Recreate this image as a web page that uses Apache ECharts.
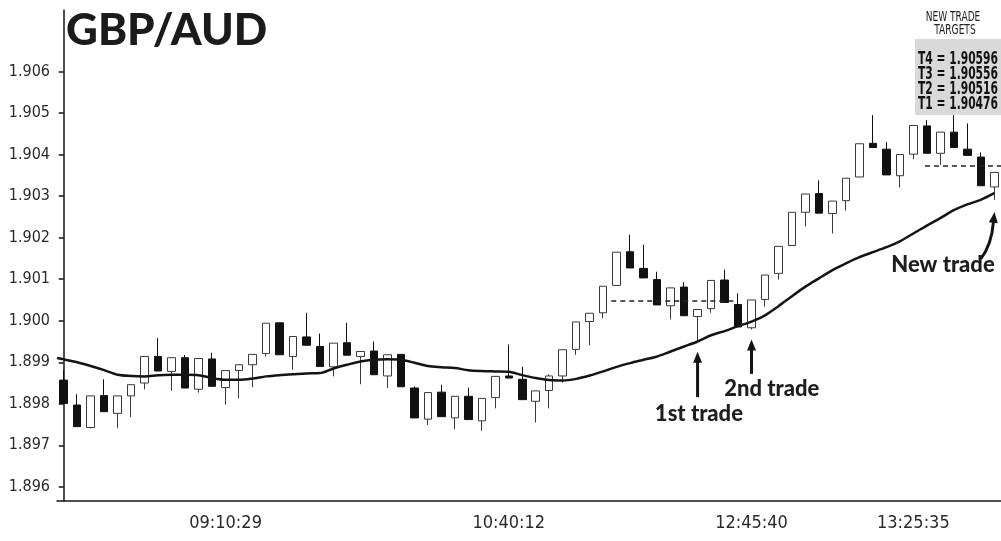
<!DOCTYPE html>
<html>
<head>
<meta charset="utf-8">
<title>GBP/AUD</title>
<script src="https://cdn.jsdelivr.net/npm/echarts@6/dist/echarts.min.js"></script>
<style>
  html, body { margin: 0; padding: 0; background: #fff; }
  #chart { width: 1001px; height: 541px; }
</style>
</head>
<body>
<div id="chart"></div>
<script>
// ---- price data (one entry per candle) ----
const opens  = [1.89857,1.89797,1.89743,1.89820,1.89777,1.89819,1.89850,1.89914,1.89878,1.89911,
                1.89835,1.89908,1.89839,1.89880,1.89894,1.89921,1.89995,1.89914,1.89961,1.89938,
                1.89889,1.89947,1.89914,1.89927,1.89867,1.89919,1.89838,1.89763,1.89828,1.89766,
                1.89818,1.89759,1.89815,1.89867,1.89859,1.89806,1.89832,1.89867,1.89931,1.89998,
                1.90019,1.90085,1.90166,1.90126,1.90099,1.90036,1.90081,1.90010,1.90029,1.90098,
                1.90039,1.89983,1.90051,1.90114,1.90181,1.90261,1.90306,1.90258,1.90289,1.90346,
                1.90427,1.90413,1.90349,1.90401,1.90469,1.90403,1.90454,1.90413,1.90394,1.90322];
const closes = [1.89801,1.89745,1.89819,1.89781,1.89819,1.89846,1.89914,1.89879,1.89911,1.89838,
                1.89909,1.89842,1.89880,1.89894,1.89919,1.89994,1.89918,1.89962,1.89941,1.89890,
                1.89946,1.89917,1.89926,1.89870,1.89918,1.89841,1.89766,1.89827,1.89769,1.89818,
                1.89762,1.89813,1.89866,1.89862,1.89810,1.89831,1.89867,1.89930,1.89997,1.90018,
                1.90083,1.90165,1.90127,1.90103,1.90038,1.90079,1.90012,1.90027,1.90097,1.90044,
                1.89985,1.90050,1.90110,1.90179,1.90261,1.90305,1.90259,1.90288,1.90343,1.90426,
                1.90417,1.90351,1.90400,1.90470,1.90403,1.90454,1.90417,1.90398,1.90325,1.90357];
const lows   = [1.89801,1.89745,1.89741,1.89781,1.89741,1.89768,1.89835,1.89879,1.89831,1.89838,
                1.89827,1.89842,1.89798,1.89813,1.89840,1.89914,1.89918,1.89882,1.89941,1.89890,
                1.89866,1.89917,1.89847,1.89870,1.89838,1.89841,1.89766,1.89749,1.89769,1.89739,
                1.89762,1.89735,1.89789,1.89862,1.89810,1.89755,1.89789,1.89851,1.89918,1.89941,
                1.90006,1.90085,1.90127,1.90103,1.90038,1.90003,1.90012,1.89949,1.90019,1.90044,
                1.89985,1.89979,1.90034,1.90099,1.90181,1.90227,1.90259,1.90210,1.90265,1.90346,
                1.90417,1.90351,1.90321,1.90389,1.90403,1.90375,1.90417,1.90398,1.90325,1.90291];
const highs  = [1.89881,1.89823,1.89819,1.89859,1.89819,1.89846,1.89914,1.89958,1.89911,1.89918,
                1.89909,1.89923,1.89880,1.89894,1.89919,1.89994,1.89995,1.89962,1.90019,1.89969,
                1.89946,1.89995,1.89926,1.89950,1.89918,1.89919,1.89842,1.89827,1.89846,1.89818,
                1.89839,1.89813,1.89866,1.89943,1.89889,1.89831,1.89871,1.89930,1.89997,1.90018,
                1.90083,1.90165,1.90207,1.90183,1.90118,1.90079,1.90093,1.90027,1.90097,1.90123,
                1.90066,1.90050,1.90110,1.90179,1.90261,1.90305,1.90338,1.90288,1.90343,1.90426,
                1.90495,1.90430,1.90400,1.90470,1.90483,1.90454,1.90495,1.90475,1.90405,1.90357];

// moving average, one value per candle, plus its value at the left edge of the plot
const maLeadIn = 1.89910;
const movingAvg = [1.89907,1.89900,1.89891,1.89881,1.89870,1.89867,1.89866,1.89869,1.89870,1.89870,
                   1.89869,1.89862,1.89858,1.89858,1.89861,1.89866,1.89869,1.89871,1.89873,1.89874,
                   1.89885,1.89894,1.89902,1.89906,1.89907,1.89906,1.89899,1.89891,1.89888,1.89886,
                   1.89881,1.89879,1.89878,1.89877,1.89869,1.89862,1.89857,1.89856,1.89860,1.89868,
                   1.89878,1.89889,1.89898,1.89906,1.89914,1.89926,1.89938,1.89950,1.89965,1.89975,
                   1.89987,1.89998,1.90013,1.90035,1.90059,1.90082,1.90102,1.90122,1.90138,1.90153,
                   1.90165,1.90177,1.90191,1.90210,1.90229,1.90247,1.90266,1.90280,1.90291,1.90307];

// time axis: labelled candles and their times
const tickIndex  = [12, 33, 51, 63];
const tickLabels = ['09:10:29', '10:40:12', '12:45:40', '13:25:35'];

// price axis
const yTicks = [1.896, 1.897, 1.898, 1.899, 1.900, 1.901, 1.902, 1.903, 1.904, 1.905, 1.906];
const yMin = 1.89566;
const yMax = 1.90748;

// trade targets
const targetNames  = ['T4', 'T3', 'T2', 'T1'];
const targetLevels = [1.90596, 1.90556, 1.90516, 1.90476];

// dashed entry levels: price and the candle span they cover
const levelLines = [
  { value: 1.90047, from: 40.6, to: 49.9 },
  { value: 1.90373, from: 63.86, to: 69.5 }
];

// ---- build ----
const n = opens.length;
const categories = opens.map((_, i) => String(i + 1));
const candles = opens.map((o, i) => [o, closes[i], lows[i], highs[i]]);
const maPoints = [[-0.5, maLeadIn]].concat(movingAvg.map((v, i) => [i, v]));

const narrow = '"Liberation Sans Narrow", "Arial Narrow", "DejaVu Sans Condensed", sans-serif';
const heavy = 'Lato, "Noto Sans", sans-serif';
const ink = '#141414';

const chart = echarts.init(document.getElementById('chart'));

chart.setOption({
  animation: false,
  backgroundColor: '#fff',
  title: {
    text: 'GBP/AUD',
    left: 61,
    top: 4,
    textStyle: { fontFamily: heavy, fontWeight: 900, fontSize: 44, color: '#1b1b1b' }
  },
  grid: { left: 57, right: -7.5, top: 10, bottom: 40 },
  xAxis: [
    {
      type: 'category',
      data: categories,
      boundaryGap: true,
      axisLine: { lineStyle: { color: ink, width: 1.5 } },
      axisTick: {
        alignWithLabel: true,
        interval: (i) => tickIndex.includes(i),
        length: 7,
        lineStyle: { color: ink, width: 1.5 }
      },
      axisLabel: {
        interval: (i) => tickIndex.includes(i),
        formatter: (v, i) => {
          const k = tickIndex.indexOf(i);
          return k >= 0 ? tickLabels[k] : '';
        },
        margin: 13,
        fontFamily: narrow,
        fontSize: 18,
        color: '#2a2a2a'
      },
      splitLine: { show: false }
    },
    { type: 'value', min: -0.5, max: n - 0.5, show: false }
  ],
  yAxis: {
    type: 'value',
    min: yMin,
    max: yMax,
    axisLine: { show: true, lineStyle: { color: ink, width: 1.5 } },
    axisTick: { show: true, customValues: yTicks, length: 5, lineStyle: { color: ink, width: 1.5 } },
    axisLabel: {
      customValues: yTicks,
      formatter: (v) => v.toFixed(3),
      margin: 7,
      fontFamily: narrow,
      fontSize: 16,
      color: '#2a2a2a'
    },
    splitLine: { show: false }
  },
  series: [
    {
      type: 'candlestick',
      name: 'GBP/AUD',
      xAxisIndex: 0,
      yAxisIndex: 0,
      data: candles,
      barWidth: 8,
      z: 2,
      itemStyle: {
        color: '#ffffff',
        color0: '#111111',
        borderColor: '#3a3a3a',
        borderColor0: '#111111',
        borderWidth: 1
      }
    },
    {
      type: 'line',
      name: 'MA',
      xAxisIndex: 1,
      yAxisIndex: 0,
      data: maPoints,
      smooth: 0.3,
      symbol: 'none',
      z: 3,
      lineStyle: { color: ink, width: 2.5 },
      markLine: {
        silent: true,
        symbol: ['none', 'none'],
        label: { show: false },
        lineStyle: { color: '#222', width: 1.5, type: [5, 4] },
        data: levelLines.map(l => [{ coord: [l.from, l.value] }, { coord: [l.to, l.value] }])
      }
    }
  ]
});

// ---- callouts, placed through the chart's own scales ----
const callouts = [
  { text: '1st trade', at: [47.1, 1.89775], arrow: { from: [47, 1.89816], to: [47, 1.89925] } },
  { text: '2nd trade', at: [52.5, 1.89835], arrow: { from: [51, 1.89872], to: [51, 1.89955] } },
  { text: 'New trade', at: [65.2, 1.90135],
    curve: { from: [68.0, 1.90149], ctrl: [68.8, 1.90182], to: [68.94, 1.90238], tip: [69.02, 1.90262] } }
];

function px(p) { return chart.convertToPixel({ seriesIndex: 1 }, p); }

function arrowHead(tip, angle, len, half) {
  // angle: direction the arrow points, in radians (screen coords)
  const bx = tip[0] - Math.cos(angle) * len, by = tip[1] - Math.sin(angle) * len;
  const nx = -Math.sin(angle) * half, ny = Math.cos(angle) * half;
  return {
    type: 'polygon',
    shape: { points: [tip, [bx + nx, by + ny], [bx - nx, by - ny]] },
    style: { fill: ink }
  };
}

const g = [];
callouts.forEach(c => {
  const t = px(c.at);
  g.push({
    type: 'text', x: t[0], y: t[1],
    style: {
      text: c.text, fill: '#1e1e1e', font: '900 22px ' + heavy,
      textAlign: 'center', textVerticalAlign: 'middle'
    }
  });
  if (c.arrow) {
    const a = px(c.arrow.from), b = px(c.arrow.to);
    g.push({ type: 'line', shape: { x1: a[0], y1: a[1], x2: b[0], y2: b[1] + 8 },
             style: { stroke: ink, lineWidth: 3 } });
    g.push(arrowHead(b, -Math.PI / 2, 11, 4.5));
  }
  if (c.curve) {
    const a = px(c.curve.from), k = px(c.curve.ctrl), b = px(c.curve.to), tip = px(c.curve.tip);
    g.push({ type: 'bezierCurve', shape: { x1: a[0], y1: a[1], cpx1: k[0], cpy1: k[1], x2: b[0], y2: b[1] },
             style: { stroke: ink, lineWidth: 3, fill: null } });
    g.push(arrowHead(tip, Math.atan2(tip[1] - b[1], tip[0] - b[0]), 11, 4.5));
  }
});

// target panel, top right (condensed lettering via horizontal scale)
g.push({ type: 'text', x: 953, y: 17, scaleX: 0.72,
  style: { text: 'NEW TRADE', font: '14px ' + narrow, fill: '#222', textAlign: 'center', textVerticalAlign: 'middle' } });
g.push({ type: 'text', x: 955, y: 30, scaleX: 0.72,
  style: { text: 'TARGETS', font: '14px ' + narrow, fill: '#222', textAlign: 'center', textVerticalAlign: 'middle' } });
g.push({ type: 'rect', shape: { x: 915, y: 39, width: 90, height: 76 }, style: { fill: '#d9d9d9' }, z: 10 });
targetLevels.forEach((v, i) => {
  g.push({ type: 'text', x: 958, y: 59.5 + i * 15, z: 11, scaleX: 0.7,
    style: { text: targetNames[i] + ' = ' + v.toFixed(5), font: 'bold 17px ' + narrow, fill: '#111',
             textAlign: 'center', textVerticalAlign: 'middle' } });
});

chart.setOption({ graphic: { elements: g } });
</script>
</body>
</html>
